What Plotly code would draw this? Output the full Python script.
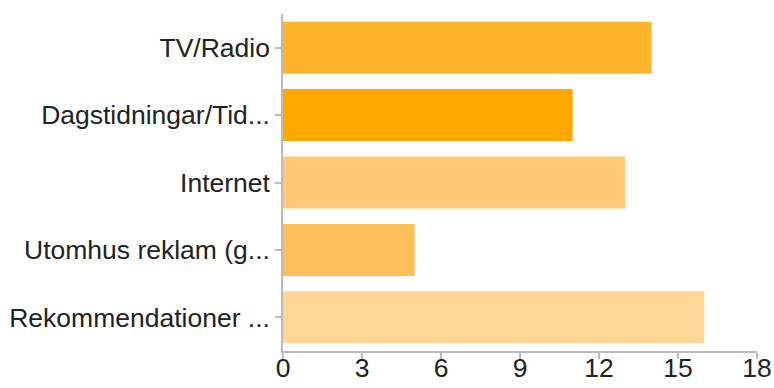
import plotly.graph_objects as go

categories = ["TV/Radio", "Dagstidningar/Tid...", "Internet", "Utomhus reklam (g...", "Rekommendationer ..."]
values = [14, 11, 13, 5, 16]
colors = ["#FFB42C", "#FFA800", "#FFC978", "#FFBF58", "#FFD695"]
x_ticks = [0, 3, 6, 9, 12, 15, 18]

fig = go.Figure(go.Bar(
    x=values, y=categories, orientation="h",
    marker=dict(color=colors, line=dict(width=0)),
))

font_family = "Liberation Sans, Arial, sans-serif"
fs = 26.5
fig.update_layout(
    width=774, height=388,
    margin=dict(l=283, r=17, t=14, b=37),
    paper_bgcolor="white", plot_bgcolor="white",
    bargap=0.228,
    showlegend=False,
    font=dict(family=font_family, size=fs, color="#222222"),
)
fig.update_xaxes(
    range=[0, 18], tickvals=x_ticks, ticktext=[str(t) for t in x_ticks],
    showgrid=False, zeroline=False, automargin=False,
    showline=True, linecolor="#BBBBBB", linewidth=1.5,
    ticks="outside", ticklen=6, tickcolor="#BBBBBB", tickwidth=1.5,
    tickfont=dict(size=fs, color="#222222"),
    ticklabelstandoff=-14,
)
fig.update_yaxes(
    categoryorder="array", categoryarray=categories, autorange="reversed",
    showgrid=False, zeroline=False, automargin=False,
    showline=True, linecolor="#BBBBBB", linewidth=1.5,
    ticks="outside", ticklen=6, tickcolor="#BBBBBB", tickwidth=1.5,
    tickfont=dict(size=fs, color="#222222"),
)
fig.write_html("out.html")
